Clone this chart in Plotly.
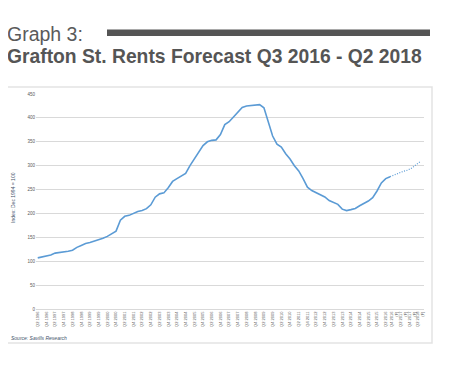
import plotly.graph_objects as go

# ---- data ----
quarters = []
for yr in range(1996, 2019):
    for q in (1, 2, 3, 4):
        if (yr == 1996 and q < 2) or (yr == 2018 and q > 2):
            continue
        quarters.append(f"Q{q} {yr}")

rent_index = [107, 108.5, 110, 113, 117, 118, 119, 121, 123, 129,
              133, 137, 139, 141.5, 144, 148, 152, 157, 163, 186,
              194, 196, 200, 204, 206, 210, 218, 234, 241, 243,
              254, 267, 273, 278, 284, 300, 315, 328, 342, 350,
              353, 354, 365, 386, 392, 402, 413, 422, 425, 426,
              427, 427.6, 421, 393, 362, 345, 339, 325, 314, 300,
              289, 273, 255, 248, 243, 239.5, 234.5, 227, 223, 219,
              209, 206, 208, 210.5, 216, 221, 226, 233, 247, 264,
              273, 277, 281, 285, 288, 290.5, 295, 302, 309]

forecast_start = 81  # Q3 2016
y_ticks = list(range(0, 451, 50))

# ---- geometry helpers (screen px; page body has an 8px margin) ----
OFF = 8
W, H = 462 - OFF, 366 - OFF
PL, PR, PT, PB = 36, 424, 94, 309  # plot area in screen px


def px(x):
    return (x - PL) / (PR - PL)


def py(y):
    return (PB - y) / (PB - PT)


idx = list(range(len(quarters)))
tick_idx = idx[::2]
tick_txt = []
for i in tick_idx:
    t = quarters[i]
    if i >= forecast_start:
        t = t + "<br>(F)"
    tick_txt.append(t)

fig = go.Figure()
fig.add_trace(go.Scatter(
    x=idx[:forecast_start + 1], y=rent_index[:forecast_start + 1],
    mode="lines", line=dict(color="#5b9bd5", width=1.6),
    hoverinfo="skip", showlegend=False))
fig.add_trace(go.Scatter(
    x=idx[forecast_start:], y=rent_index[forecast_start:],
    mode="lines", line=dict(color="#5b9bd5", width=1.2, dash="1px,1.5px"),
    hoverinfo="skip", showlegend=False))

fig.update_layout(
    width=W, height=H,
    margin=dict(l=PL - OFF, r=W - (PR - OFF), t=PT - OFF, b=H - (PB - OFF), pad=0),
    paper_bgcolor="white", plot_bgcolor="white",
    font=dict(family="Liberation Sans, Arial, sans-serif", color="#595959"),
    xaxis=dict(range=[-0.4, 88.8], tickmode="array", tickvals=tick_idx,
               ticktext=tick_txt, tickangle=-90,
               tickfont=dict(size=4, color="#595959"),
               showgrid=False, showline=True, linecolor="#d9d9d9",
               linewidth=1, ticks="", zeroline=False, fixedrange=True),
    yaxis=dict(range=[0, 450], tickvals=y_ticks,
               tickfont=dict(size=4.5, color="#595959"),
               showgrid=True, gridcolor="#d9d9d9", gridwidth=1,
               zeroline=False, showline=False, ticks="", fixedrange=True),
)

shapes = [
    # chart frame
    dict(type="rect", xref="paper", yref="paper",
         x0=px(5), x1=px(432), y0=py(343), y1=py(87),
         line=dict(color="#e3e3e3", width=1.5), fillcolor="rgba(0,0,0,0)",
         layer="below"),
    # header bar
    dict(type="rect", xref="paper", yref="paper",
         x0=px(107), x1=px(430), y0=py(36), y1=py(29.5),
         line=dict(width=0), fillcolor="#555555"),
]
fig.update_layout(shapes=shapes)

annotations = [
    dict(text="Graph 3:", xref="paper", yref="paper", x=px(5), y=py(34),
         xanchor="left", yanchor="middle", showarrow=False,
         font=dict(size=19.5, color="#5a5a5a",
                   family="Liberation Sans, Arial, sans-serif")),
    dict(text="<b>Grafton St. Rents Forecast Q3 2016 - Q2 2018</b>",
         xref="paper", yref="paper", x=px(5), y=py(57),
         xanchor="left", yanchor="middle", showarrow=False,
         font=dict(size=19.3, color="#555555",
                   family="Liberation Sans, Arial, sans-serif")),
    dict(text="Index: Dec 1994 = 100", xref="paper", yref="paper",
         x=px(13), y=py(198), textangle=-90, xanchor="center",
         yanchor="middle", showarrow=False,
         font=dict(size=5, color="#44546a")),
    dict(text="<i>Source: Savills Research</i>", xref="paper", yref="paper",
         x=px(9), y=py(338), xanchor="left", yanchor="middle",
         showarrow=False, font=dict(size=5, color="#44546a")),
]
fig.update_layout(annotations=annotations)

fig.write_html("out.html", config={"displayModeBar": False})
